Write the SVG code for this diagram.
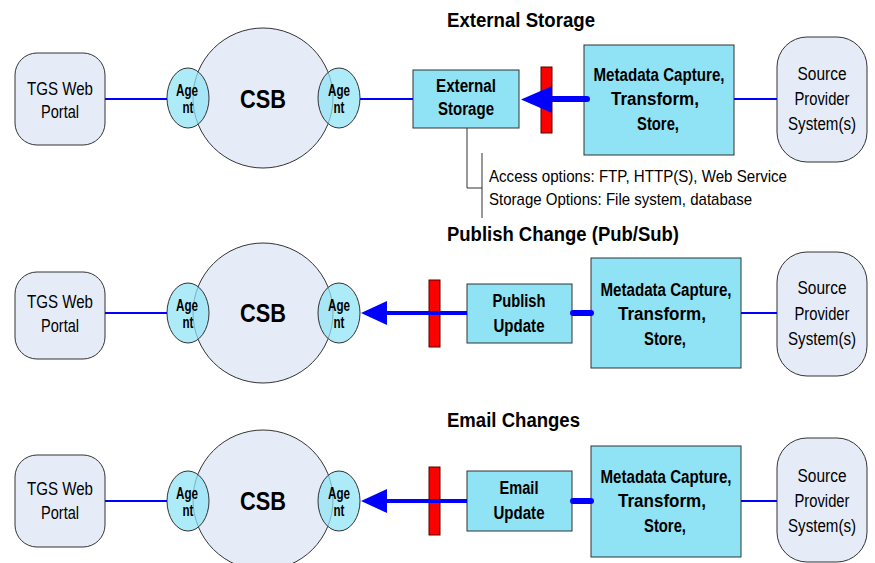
<svg xmlns="http://www.w3.org/2000/svg" width="875" height="563" viewBox="0 0 875 563">
  <style>
    .soft { fill: #e6ecf7; stroke: #333; stroke-width: 1; }
    .box { fill: #8fe3f5; stroke: #333; stroke-width: 1; }
    .agent { fill: #8fe3f5; fill-opacity: 0.72; stroke: #333; stroke-width: 1; }
    .bar { fill: #ff0000; stroke: #5a0000; stroke-width: 1; }
    .t { font-family: "Liberation Sans", Arial, sans-serif; fill: #000; text-anchor: middle; }
    .reg { font-size: 17.5px; }
    .bold { font-size: 17.5px; font-weight: bold; }
    .csb { font-size: 25px; font-weight: bold; }
    .ag { font-size: 16px; font-weight: bold; }
    .title { font-family: "Liberation Sans", Arial, sans-serif; font-size: 20px; font-weight: bold; fill: #000; }
    .note { font-family: "Liberation Sans", Arial, sans-serif; font-size: 17px; fill: #000; }
    .wire { stroke: #0000ff; stroke-width: 2; fill: none; }
    .fat { stroke: #0000ff; stroke-width: 6; fill: none; stroke-linecap: round; }
    .mid { stroke: #0000ff; stroke-width: 4; fill: none; }
    .head { fill: #0000ff; }
    .callout { stroke: #333; stroke-width: 1; fill: none; }
  </style>

  <!-- Section titles -->
  <text class="title" x="447" y="27" textLength="148" lengthAdjust="spacingAndGlyphs">External Storage</text>
  <text class="title" x="447" y="241" textLength="232" lengthAdjust="spacingAndGlyphs">Publish Change (Pub/Sub)</text>
  <text class="title" x="447" y="427" textLength="133" lengthAdjust="spacingAndGlyphs">Email Changes</text>

  <!-- Row 1: External Storage -->
  <g id="portal1">
    <rect class="soft" x="15" y="53" width="90" height="92" rx="22"/>
    <text class="t reg" x="60" y="95" textLength="66" lengthAdjust="spacingAndGlyphs">TGS Web</text>
    <text class="t reg" x="60" y="118" textLength="38" lengthAdjust="spacingAndGlyphs">Portal</text>
  </g>
  <g id="csb1">
    <circle class="soft" cx="263" cy="98" r="70"/>
    <text class="t csb" x="263" y="108" textLength="46" lengthAdjust="spacingAndGlyphs">CSB</text>
  </g>
  <g id="agentL1">
    <ellipse class="agent" cx="188" cy="98" rx="21" ry="30"/>
    <text class="t ag" x="187" y="96" textLength="22" lengthAdjust="spacingAndGlyphs">Age</text>
    <text class="t ag" x="188" y="113" textLength="11" lengthAdjust="spacingAndGlyphs">nt</text>
  </g>
  <g id="agentR1">
    <ellipse class="agent" cx="339" cy="98" rx="21" ry="30"/>
    <text class="t ag" x="339" y="96" textLength="22" lengthAdjust="spacingAndGlyphs">Age</text>
    <text class="t ag" x="339" y="113" textLength="11" lengthAdjust="spacingAndGlyphs">nt</text>
  </g>
  <g id="extstore">
    <rect class="box" x="413" y="70" width="106" height="58"/>
    <text class="t bold" x="466" y="92" textLength="60" lengthAdjust="spacingAndGlyphs">External</text>
    <text class="t bold" x="466" y="115" textLength="56" lengthAdjust="spacingAndGlyphs">Storage</text>
  </g>
  <g id="barrier1">
    <rect class="bar" x="541" y="67" width="11" height="66"/>
  </g>
  <g id="meta1">
    <rect class="box" x="584" y="45" width="150" height="110"/>
    <text class="t bold" x="659" y="81" textLength="131" lengthAdjust="spacingAndGlyphs">Metadata Capture,</text>
    <text class="t bold" x="655" y="105" textLength="88" lengthAdjust="spacingAndGlyphs">Transform,</text>
    <text class="t bold" x="658" y="130" textLength="42" lengthAdjust="spacingAndGlyphs">Store,</text>
  </g>
  <g id="source1">
    <rect class="soft" x="777" y="37" width="90" height="125" rx="30"/>
    <text class="t reg" x="822" y="80" textLength="49" lengthAdjust="spacingAndGlyphs">Source</text>
    <text class="t reg" x="822" y="105" textLength="55" lengthAdjust="spacingAndGlyphs">Provider</text>
    <text class="t reg" x="822" y="130" textLength="68" lengthAdjust="spacingAndGlyphs">System(s)</text>
  </g>
  <g id="accessnote">
    <text class="note" x="489" y="182" textLength="298" lengthAdjust="spacingAndGlyphs">Access options: FTP, HTTP(S), Web Service</text>
    <text class="note" x="489" y="205" textLength="263" lengthAdjust="spacingAndGlyphs">Storage Options: File system, database</text>
  </g>

  <!-- Row 2: Publish Change -->
  <g id="portal2">
    <rect class="soft" x="15" y="272" width="90" height="87" rx="22"/>
    <text class="t reg" x="60" y="308" textLength="66" lengthAdjust="spacingAndGlyphs">TGS Web</text>
    <text class="t reg" x="60" y="332" textLength="38" lengthAdjust="spacingAndGlyphs">Portal</text>
  </g>
  <g id="csb2">
    <circle class="soft" cx="263" cy="313" r="70"/>
    <text class="t csb" x="263" y="322" textLength="46" lengthAdjust="spacingAndGlyphs">CSB</text>
  </g>
  <g id="agentL2">
    <ellipse class="agent" cx="188" cy="313" rx="21" ry="30"/>
    <text class="t ag" x="187" y="311" textLength="22" lengthAdjust="spacingAndGlyphs">Age</text>
    <text class="t ag" x="188" y="328" textLength="11" lengthAdjust="spacingAndGlyphs">nt</text>
  </g>
  <g id="agentR2">
    <ellipse class="agent" cx="339" cy="313" rx="21" ry="30"/>
    <text class="t ag" x="339" y="311" textLength="22" lengthAdjust="spacingAndGlyphs">Age</text>
    <text class="t ag" x="339" y="328" textLength="11" lengthAdjust="spacingAndGlyphs">nt</text>
  </g>
  <g id="barrier2">
    <rect class="bar" x="429" y="280" width="11" height="67"/>
  </g>
  <g id="publish">
    <rect class="box" x="467" y="284" width="105" height="59"/>
    <text class="t bold" x="519" y="307" textLength="53" lengthAdjust="spacingAndGlyphs">Publish</text>
    <text class="t bold" x="519" y="332" textLength="51" lengthAdjust="spacingAndGlyphs">Update</text>
  </g>
  <g id="meta2">
    <rect class="box" x="591" y="258" width="150" height="110"/>
    <text class="t bold" x="666" y="296" textLength="131" lengthAdjust="spacingAndGlyphs">Metadata Capture,</text>
    <text class="t bold" x="662" y="320" textLength="88" lengthAdjust="spacingAndGlyphs">Transform,</text>
    <text class="t bold" x="665" y="345" textLength="42" lengthAdjust="spacingAndGlyphs">Store,</text>
  </g>
  <g id="source2">
    <rect class="soft" x="777" y="252" width="90" height="124" rx="30"/>
    <text class="t reg" x="822" y="294" textLength="49" lengthAdjust="spacingAndGlyphs">Source</text>
    <text class="t reg" x="822" y="320" textLength="55" lengthAdjust="spacingAndGlyphs">Provider</text>
    <text class="t reg" x="822" y="345" textLength="68" lengthAdjust="spacingAndGlyphs">System(s)</text>
  </g>

  <!-- Row 3: Email Changes -->
  <g id="portal3">
    <rect class="soft" x="15" y="455" width="90" height="92" rx="22"/>
    <text class="t reg" x="60" y="495" textLength="66" lengthAdjust="spacingAndGlyphs">TGS Web</text>
    <text class="t reg" x="60" y="519" textLength="38" lengthAdjust="spacingAndGlyphs">Portal</text>
  </g>
  <g id="csb3">
    <circle class="soft" cx="263" cy="500" r="70"/>
    <text class="t csb" x="263" y="510" textLength="46" lengthAdjust="spacingAndGlyphs">CSB</text>
  </g>
  <g id="agentL3">
    <ellipse class="agent" cx="188" cy="501" rx="21" ry="30"/>
    <text class="t ag" x="187" y="499" textLength="22" lengthAdjust="spacingAndGlyphs">Age</text>
    <text class="t ag" x="188" y="516" textLength="11" lengthAdjust="spacingAndGlyphs">nt</text>
  </g>
  <g id="agentR3">
    <ellipse class="agent" cx="339" cy="501" rx="21" ry="30"/>
    <text class="t ag" x="339" y="499" textLength="22" lengthAdjust="spacingAndGlyphs">Age</text>
    <text class="t ag" x="339" y="516" textLength="11" lengthAdjust="spacingAndGlyphs">nt</text>
  </g>
  <g id="barrier3">
    <rect class="bar" x="429" y="467" width="11" height="68"/>
  </g>
  <g id="email">
    <rect class="box" x="467" y="471" width="105" height="60"/>
    <text class="t bold" x="519" y="494" textLength="39" lengthAdjust="spacingAndGlyphs">Email</text>
    <text class="t bold" x="519" y="519" textLength="51" lengthAdjust="spacingAndGlyphs">Update</text>
  </g>
  <g id="meta3">
    <rect class="box" x="591" y="446" width="150" height="111"/>
    <text class="t bold" x="666" y="483" textLength="131" lengthAdjust="spacingAndGlyphs">Metadata Capture,</text>
    <text class="t bold" x="662" y="507" textLength="88" lengthAdjust="spacingAndGlyphs">Transform,</text>
    <text class="t bold" x="665" y="532" textLength="42" lengthAdjust="spacingAndGlyphs">Store,</text>
  </g>
  <g id="source3">
    <rect class="soft" x="777" y="438" width="90" height="124" rx="30"/>
    <text class="t reg" x="822" y="482" textLength="49" lengthAdjust="spacingAndGlyphs">Source</text>
    <text class="t reg" x="822" y="507" textLength="55" lengthAdjust="spacingAndGlyphs">Provider</text>
    <text class="t reg" x="822" y="532" textLength="68" lengthAdjust="spacingAndGlyphs">System(s)</text>
  </g>

  <!-- Connectors -->
  <g id="connectors">
    <!-- row 1 -->
    <line class="wire" x1="105" y1="99" x2="167" y2="99"/>
    <line class="wire" x1="360" y1="99" x2="413" y2="99"/>
    <line class="fat" x1="587" y1="99" x2="548" y2="99"/>
    <polygon class="head" points="521,99.5 552,86 552,113"/>
    <line class="wire" x1="734" y1="99" x2="777" y2="99"/>
    <path class="callout" d="M467,128 V188 H482"/>
    <line class="callout" x1="482" y1="153" x2="482" y2="218"/>
    <!-- row 2 -->
    <line class="wire" x1="105" y1="313" x2="167" y2="313"/>
    <line class="mid" x1="385" y1="313" x2="467" y2="313"/>
    <polygon class="head" points="361,313 387,301 387,325"/>
    <line class="fat" x1="573" y1="313" x2="591" y2="313"/>
    <line class="wire" x1="741" y1="313" x2="777" y2="313"/>
    <!-- row 3 -->
    <line class="wire" x1="105" y1="501" x2="167" y2="501"/>
    <line class="mid" x1="385" y1="501" x2="467" y2="501"/>
    <polygon class="head" points="361,501 387,489 387,513"/>
    <line class="fat" x1="573" y1="501" x2="591" y2="501"/>
    <line class="wire" x1="741" y1="501" x2="777" y2="501"/>
  </g>
</svg>
